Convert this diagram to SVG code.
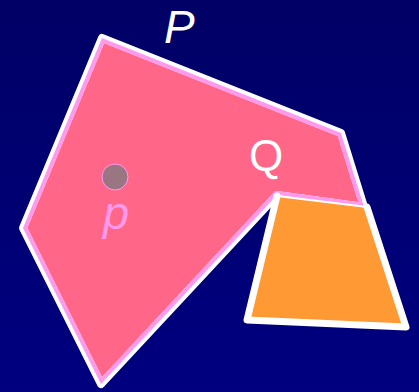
<svg xmlns="http://www.w3.org/2000/svg" width="419" height="392" viewBox="0 0 419 392">
<defs>
<linearGradient id="bg" x1="0" y1="0" x2="0" y2="1">
<stop offset="0" stop-color="#000066"/>
<stop offset="1" stop-color="#000080"/>
</linearGradient>
<clipPath id="pclip"><polygon points="102,38 341,133 364,207 277,195 101,384 23,228"/></clipPath>
<style>
.lbl{font-family:"Liberation Sans",Arial,sans-serif;}
</style>
</defs>
<rect width="419" height="392" fill="url(#bg)"/>
<g id="P">
<polygon points="102,38 341,133 364,207 277,195 101,384 23,228" fill="#ff6688" stroke="#ffffff" stroke-width="8" stroke-linejoin="round"/>
<polygon points="102,38 341,133 364,207 277,195 101,384 23,228" fill="none" stroke="#ff99ee" stroke-width="8" stroke-linejoin="round" clip-path="url(#pclip)"/>
</g>
<g id="Q">
<polygon points="277,196 367,207 406,327 247,320" fill="#ff9933"/>
<polyline points="367,207 406,327 247,320 277,196" fill="none" stroke="#ffffff" stroke-width="7" stroke-linejoin="round" stroke-linecap="round"/>
<line x1="277" y1="196" x2="367" y2="207" stroke="#ffffff" stroke-width="2"/>
</g>
<g id="point">
<circle cx="115" cy="177" r="13" fill="#9a7582" stroke="#ff99ee" stroke-width="1"/>
</g>
<text class="lbl" x="164" y="43" font-size="46" font-style="italic" fill="#ffffff">P</text>
<text class="lbl" x="249" y="171" font-size="44" fill="#ffffff">Q</text>
<text class="lbl" x="103" y="229" font-size="47" font-style="italic" fill="#ff99ee">p</text>
</svg>
